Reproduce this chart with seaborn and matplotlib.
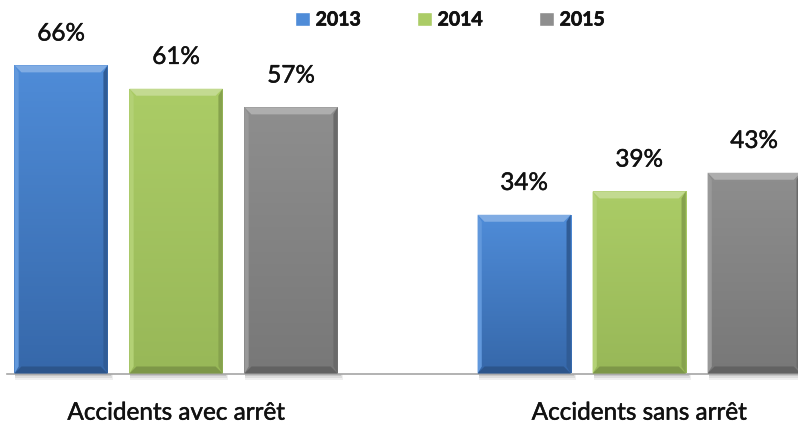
import numpy as np
import pandas as pd
import matplotlib
matplotlib.use("Agg")
import matplotlib.pyplot as plt
from matplotlib.patches import Polygon, Rectangle
from matplotlib.colors import LinearSegmentedColormap, to_rgb
import matplotlib.patheffects as pe
import seaborn as sns

# Data
categories = ["Accidents avec arrêt", "Accidents sans arrêt"]
years = ["2013", "2014", "2015"]
values_2013 = [66, 34]
values_2014 = [61, 39]
values_2015 = [57, 43]

df = pd.DataFrame({
    "Catégorie": categories * 3,
    "Année": [years[0]] * 2 + [years[1]] * 2 + [years[2]] * 2,
    "Part": values_2013 + values_2014 + values_2015,
})

# face colours (top, bottom) for the gradient of each series
face = {
    "2013": ("#4f8cd8", "#3668aa"),
    "2014": ("#abcc66", "#98b858"),
    "2015": ("#8e8e8e", "#787878"),
}
palette = {y: face[y][0] for y in years}

sns.set_theme(style="white")
plt.rcParams["font.family"] = ["Lato", "DejaVu Sans"]

TEXT = "#111111"
medium = [pe.withStroke(linewidth=0.35, foreground=TEXT)]

fig = plt.figure(figsize=(7.98, 4.25), dpi=100)
ax = fig.add_axes([7 / 798, (425 - 373.5) / 425, 791 / 798, 373.5 / 425])

sns.barplot(data=df, x="Catégorie", y="Part", hue="Année", palette=palette,
            width=0.745, gap=0.19, ax=ax, legend=True, saturation=1)

ax.set_ylim(0, 80)
ax.set_xlim(-0.365, 1.343)
ax.set_xlabel("")
ax.set_ylabel("")
ax.set_yticks([])
for s in ["left", "right", "top"]:
    ax.spines[s].set_visible(False)
ax.spines["bottom"].set_color("#a6a6a6")
ax.spines["bottom"].set_linewidth(1.2)
ax.tick_params(axis="x", length=0, pad=21, labelsize=17.5, labelcolor=TEXT)
for t in ax.get_xticklabels():
    t.set_path_effects(medium)

# pixel -> data scale factors
p0 = ax.transData.transform((0, 0))
p1 = ax.transData.transform((1, 1))
sx = 1.0 / (p1[0] - p0[0])
sy = 1.0 / (p1[1] - p0[1])
b = 7.0
bx, by = b * sx, b * sy


def mix(c, other, t):
    c = np.array(to_rgb(c)); o = np.array(to_rgb(other))
    return tuple(c * (1 - t) + o * t)


for cont, yr in zip(ax.containers, years):
    top_c, bot_c = face[yr]
    cmap = LinearSegmentedColormap.from_list("g" + yr, [bot_c, top_c])
    for bar in cont:
        x0, y0 = bar.get_x(), bar.get_y()
        w, h = bar.get_width(), bar.get_height()
        x1, y1 = x0 + w, y0 + h
        bar.set_edgecolor("none")
        # drop shadow under the bar
        for k, a in enumerate([0.10, 0.08, 0.06]):
            ax.add_patch(Rectangle((x0 + 1 * sx, y0 - (2 + 2 * k) * sy), w + (2 + k) * sx,
                                   (2 + 2 * k) * sy, facecolor="#000000", alpha=a,
                                   edgecolor="none", clip_on=False, zorder=1))
        # vertical gradient face
        grad = np.linspace(0, 1, 100).reshape(-1, 1)
        im = ax.imshow(grad, cmap=cmap, origin="lower", aspect="auto",
                       extent=(x0, x1, y0, y1), zorder=2)
        im.set_clip_path(bar)
        # bevel edges
        ax.add_patch(Polygon([(x0, y1), (x1, y1), (x1 - bx, y1 - by), (x0 + bx, y1 - by)],
                             closed=True, facecolor=mix(top_c, "white", 0.28),
                             edgecolor="none", zorder=3))
        ax.add_patch(Polygon([(x0, y0), (x1, y0), (x1 - bx, y0 + by), (x0 + bx, y0 + by)],
                             closed=True, facecolor=mix(bot_c, "black", 0.18),
                             edgecolor="none", zorder=3))
        ax.add_patch(Polygon([(x0, y0), (x0 + bx * 0.6, y0 + by), (x0 + bx * 0.6, y1 - by), (x0, y1)],
                             closed=True, facecolor=mix(top_c, "white", 0.10),
                             edgecolor="none", zorder=3))
        ax.add_patch(Polygon([(x1, y0), (x1 - bx * 0.6, y0 + by), (x1 - bx * 0.6, y1 - by), (x1, y1)],
                             closed=True, facecolor=mix(bot_c, "black", 0.12),
                             edgecolor="none", zorder=3))
    for t in ax.bar_label(cont, labels=[f"{v:.0f}%" for v in cont.datavalues], padding=15,
                          fontsize=17.5, color=TEXT):
        t.set_path_effects(medium)

# legend across the top
handles, labels = ax.get_legend_handles_labels()
leg = ax.legend(handles, labels, loc="center", bbox_to_anchor=(443 / 791, 1 - 20 / 373.5),
                bbox_transform=ax.transAxes, ncol=3, frameon=False, handlelength=0.75,
                handleheight=0.75, handletextpad=0.3, columnspacing=2.9,
                prop={"weight": "bold", "size": 14})
for t in leg.get_texts():
    t.set_color(TEXT)
    t.set_path_effects([pe.withStroke(linewidth=0.5, foreground=TEXT)])

fig.savefig("out.png", dpi=100)
